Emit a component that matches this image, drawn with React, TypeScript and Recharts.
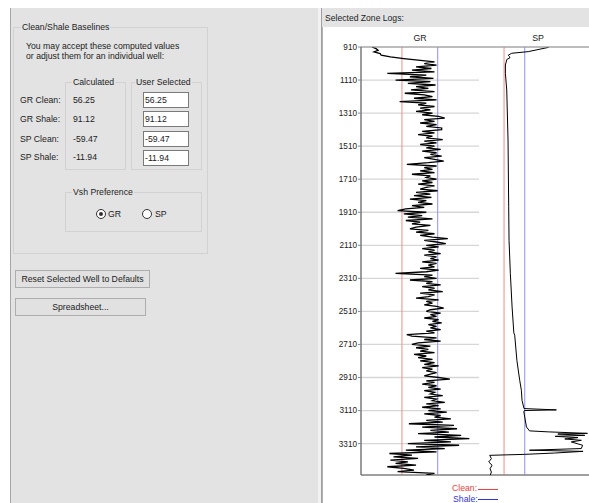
import React from 'react';
import { LineChart, Line, XAxis, YAxis, CartesianGrid, ReferenceLine } from 'recharts';

// ---------- data ----------
const DEPTH_TICKS = [910, 1110, 1310, 1510, 1710, 1910, 2110, 2310, 2510, 2710, 2910, 3110, 3310];
const DEPTH_MIN = 910;
const DEPTH_MAX = 3500;

const GR_CLEAN = 56.25;
const GR_SHALE = 91.12;
const SP_CLEAN = -59.47;
const SP_SHALE = -11.94;

const ROW_LABELS = ['GR Clean:', 'GR Shale:', 'SP Clean:', 'SP Shale:'];
const CALCULATED = ['56.25', '91.12', '-59.47', '-11.94'];
const USER_SELECTED = ['56.25', '91.12', '-59.47', '-11.94'];

// GR log sampled every 10 ft from 910 ft
const GR_START = 910;
const GR_STEP = 10;
const GR_VALUES = [
  27, 31, 33, 29, 35, 36, 45, 58, 72, 88,
  78, 90, 70, 85, 66, 88, 42, 80, 64, 87,
  50, 84, 62, 89, 70, 82, 65, 88, 59, 78,
  86, 68, 90, 54, 80, 72, 88, 74, 84, 70,
  86, 76, 92, 98, 78, 88, 74, 90, 80, 95,
  95, 76, 88, 72, 86, 80, 96, 78, 90, 74,
  88, 80, 94, 76, 90, 84, 95, 78, 88, 97,
  82, 61, 90, 78, 86, 74, 88, 66, 84, 80,
  90, 76, 86, 72, 88, 80, 74, 91, 70, 84,
  68, 85, 64, 80, 72, 86, 66, 78, 60, 52,
  80, 58, 76, 62, 86, 60, 74, 66, 84, 70,
  64, 82, 70, 88, 74, 86, 101, 78, 90, 99,
  80, 92, 76, 88, 82, 94, 78, 90, 84, 92,
  76, 90, 82, 88, 74, 92, 80, 50, 86, 78,
  90, 64, 86, 80, 94, 76, 88, 82, 96, 74,
  88, 82, 70, 92, 80, 86, 78, 90, 97, 84,
  80, 94, 84, 90, 78, 92, 86, 95, 82, 90,
  84, 94, 80, 88, 61, 66, 90, 78, 94, 72,
  66, 84, 70, 82, 74, 88, 68, 80, 72, 86,
  74, 88, 78, 92, 76, 86, 80, 90, 84, 78,
  92, 103, 80, 88, 76, 90, 82, 94, 78, 88,
  84, 96, 78, 90, 86, 98, 80, 92, 76, 94,
  82, 100, 78, 94, 88, 104, 80, 96, 63, 107,
  76, 110, 84, 102, 72, 114, 88, 122, 78, 104,
  62, 112, 70, 98, 60, 90, 44, 66, 48, 72,
  45, 62, 50, 70, 42, 58, 68, 52, 88, 80,
];

const SP_DEPTHS = [
  912, 938, 948, 960, 968, 976, 985, 1019, 1069, 1170,
  1473, 1877, 2079, 2281, 2483, 2640, 2654, 2806, 2927, 2987,
  3048, 3098, 3106, 3110, 3118, 3149, 3209, 3233, 3239, 3248,
  3252, 3260, 3266, 3274, 3282, 3290, 3300, 3320, 3340, 3350,
  3357, 3367, 3375, 3381, 3401, 3421, 3441, 3462, 3482, 3500,
];
const SP_VALUES = [
  43, -4, -42, -50, -47, -46, -53, -56.4, -56.4, -53.3,
  -50.3, -48.8, -48, -45, -41, -37, -35, -30, -23.5, -19.7,
  -18.2, -13.6, 60.7, -13, -14, -12, -8, -1, 42, 132,
  64, 126, 58, 110, 80, 118, 95, 121, 118, -1,
  122, 57, -12, -92.4, -88.6, -94.7, -87, -91.6, -88.6, -91,
];

const grData = GR_VALUES.map((v, i) => ({ depth: GR_START + i * GR_STEP, gr: v }));
const spData = SP_VALUES.map((v, i) => ({ depth: SP_DEPTHS[i], sp: v }));

// ---------- styles ----------
const FONT = '"Liberation Sans", Arial, sans-serif';
const PANEL = '#e3e3e3';
const TXT = '#1c1c1c';

function T({ x, cy, children, color = TXT, size = 8.7 }: any) {
  return (
    <span
      style={{
        position: 'absolute',
        left: x,
        top: cy - 6,
        lineHeight: '12px',
        fontSize: size,
        color,
        whiteSpace: 'nowrap',
      }}
    >
      {children}
    </span>
  );
}

function GroupBox({ x, y, w, h, title, titleX }: any) {
  return (
    <div
      style={{
        position: 'absolute',
        left: x,
        top: y,
        width: w,
        height: h,
        boxSizing: 'border-box',
        border: '1px solid #d2d2d2',
      }}
    >
      <span
        style={{
          position: 'absolute',
          left: titleX - x - 1,
          top: -7,
          lineHeight: '12px',
          fontSize: 8.7,
          background: PANEL,
          padding: '0 1px',
          color: TXT,
          whiteSpace: 'nowrap',
        }}
      >
        {title}
      </span>
    </div>
  );
}

function InputBox({ x, y, value }: any) {
  return (
    <div
      style={{
        position: 'absolute',
        left: x,
        top: y,
        width: 46,
        height: 16,
        boxSizing: 'border-box',
        border: '1px solid #7a7a7a',
        background: '#fff',
        fontSize: 8.7,
        lineHeight: '14px',
        paddingLeft: 1,
        color: TXT,
      }}
    >
      {value}
    </div>
  );
}

function Radio({ cx, cy, checked }: any) {
  return (
    <div
      style={{
        position: 'absolute',
        left: cx - 5,
        top: cy - 5,
        width: 10,
        height: 10,
        boxSizing: 'border-box',
        borderRadius: '50%',
        border: '1px solid #333',
        background: '#fff',
      }}
    >
      {checked && (
        <div
          style={{
            position: 'absolute',
            left: 2,
            top: 2,
            width: 4,
            height: 4,
            borderRadius: '50%',
            background: '#333',
          }}
        />
      )}
    </div>
  );
}

function Button({ x, y, w, h, label }: any) {
  return (
    <div
      style={{
        position: 'absolute',
        left: x,
        top: y,
        width: w,
        height: h,
        boxSizing: 'border-box',
        border: '1px solid #adadad',
        background: '#e1e1e1',
        fontSize: 8.7,
        lineHeight: `${h - 2}px`,
        textAlign: 'center',
        color: TXT,
        whiteSpace: 'nowrap',
      }}
    >
      {label}
    </div>
  );
}

const ROW_CY = [100, 119, 139, 157];
const BOX_Y = [92, 111, 131, 150];

const tickStyle = { fontSize: 8.2, fill: '#222', fontFamily: FONT };

export default function App() {
  return (
    <div
      style={{
        position: 'absolute',
        left: 0,
        top: 0,
        width: 589,
        height: 503,
        overflow: 'hidden',
        background: '#fff',
        fontFamily: FONT,
      }}
    >
      {/* left panel */}
      <div
        style={{
          position: 'absolute',
          left: 10,
          top: 8,
          width: 308,
          height: 495,
          background: PANEL,
          boxSizing: 'border-box',
          borderLeft: '1px solid #a6a6a6',
        }}
      />
      <GroupBox x={13} y={27} w={195} h={227} title="Clean/Shale Baselines" titleX={21} />
      <T x={26} cy={46}>You may accept these computed values</T>
      <T x={26} cy={56}>or adjust them for an individual well:</T>
      <GroupBox x={65} y={82} w={61} h={88} title="Calculated" titleX={72} />
      <GroupBox x={131} y={82} w={71} h={88} title="User Selected" titleX={135} />
      {ROW_LABELS.map((l, i) => (
        <T key={l} x={20} cy={ROW_CY[i]}>{l}</T>
      ))}
      {CALCULATED.map((v, i) => (
        <T key={'c' + i} x={73} cy={ROW_CY[i]}>{v}</T>
      ))}
      {USER_SELECTED.map((v, i) => (
        <InputBox key={'u' + i} x={143} y={BOX_Y[i]} value={v} />
      ))}
      <GroupBox x={65} y={192} w={137} h={40} title="Vsh Preference" titleX={72} />
      <Radio cx={101} cy={214} checked />
      <T x={108} cy={214}>GR</T>
      <Radio cx={147} cy={214} />
      <T x={155} cy={214}>SP</T>
      <Button x={15} y={270} w={135} h={18} label="Reset Selected Well to Defaults" />
      <Button x={15} y={298} w={131} h={18} label="Spreadsheet..." />

      {/* right panel */}
      <div style={{ position: 'absolute', left: 318, top: 8, width: 3, height: 495, background: '#f2f2f2' }} />
      <div
        style={{
          position: 'absolute',
          left: 321,
          top: 8,
          width: 268,
          height: 495,
          background: PANEL,
          boxSizing: 'border-box',
          borderLeft: '1px solid #a0a0a0',
        }}
      />
      <T x={325} cy={18} size={8.6}>Selected Zone Logs:</T>
      <div
        style={{
          position: 'absolute',
          left: 322,
          top: 27,
          width: 267,
          height: 476,
          background: '#fff',
          boxSizing: 'border-box',
          borderLeft: '1px solid #b0b0b0',
        }}
      />

      {/* GR track */}
      <div style={{ position: 'absolute', left: 323, top: 28 }}>
        <LineChart
          width={156}
          height={450}
          data={grData}
          layout="vertical"
          margin={{ top: 0, right: 0, bottom: 3, left: 0 }}
        >
          <CartesianGrid horizontal vertical={false} stroke="#d6d6d6" strokeWidth={1.3} />
          <XAxis
            type="number"
            dataKey="gr"
            domain={[16.3, 131.4]}
            allowDataOverflow
            orientation="top"
            height={19}
            tick={false}
            tickLine={false}
            axisLine={{ stroke: '#9a9a9a' }}
            label={{ value: 'GR', position: 'center', fontSize: 8.8, fill: '#222', fontFamily: FONT }}
          />
          <YAxis
            type="number"
            dataKey="depth"
            domain={[DEPTH_MIN, DEPTH_MAX]}
            ticks={DEPTH_TICKS}
            allowDataOverflow
            width={38}
            tick={tickStyle}
            tickSize={3}
            tickMargin={1}
            tickLine={{ stroke: '#888' }}
            axisLine={{ stroke: '#666', strokeWidth: 1.3 }}
            interval={0}
          />
          <ReferenceLine x={GR_CLEAN} stroke="#f08a8a" strokeWidth={1} />
          <ReferenceLine x={GR_SHALE} stroke="#8f8ff5" strokeWidth={1} />
          <ReferenceLine y={DEPTH_MAX} stroke="#8a8a8a" strokeWidth={1.3} />
          <Line
            type="linear"
            dataKey="gr"
            stroke="#000"
            strokeWidth={1.3}
            dot={false}
            isAnimationActive={false}
          />
        </LineChart>
      </div>

      {/* SP track */}
      <div style={{ position: 'absolute', left: 479, top: 28 }}>
        <LineChart
          width={118}
          height={450}
          data={spData}
          layout="vertical"
          margin={{ top: 0, right: 0, bottom: 3, left: 0 }}
        >
          <CartesianGrid horizontal vertical={false} stroke="#d6d6d6" strokeWidth={1.3} />
          <XAxis
            type="number"
            dataKey="sp"
            domain={[-117, 154]}
            allowDataOverflow
            orientation="top"
            height={19}
            tick={false}
            tickLine={false}
            axisLine={{ stroke: '#9a9a9a' }}
            label={{ value: 'SP', position: 'center', fontSize: 8.8, fill: '#222', fontFamily: FONT }}
          />
          <YAxis
            type="number"
            dataKey="depth"
            domain={[DEPTH_MIN, DEPTH_MAX]}
            ticks={DEPTH_TICKS}
            allowDataOverflow
            width={0}
            tick={false}
            tickLine={false}
            axisLine={{ stroke: '#666', strokeWidth: 1.5 }}
          />
          <ReferenceLine x={SP_CLEAN} stroke="#f08a8a" strokeWidth={1} />
          <ReferenceLine x={SP_SHALE} stroke="#8f8ff5" strokeWidth={1} />
          <ReferenceLine y={DEPTH_MAX} stroke="#8a8a8a" strokeWidth={1.3} />
          <Line
            type="linear"
            dataKey="sp"
            stroke="#000"
            strokeWidth={1}
            dot={false}
            isAnimationActive={false}
          />
        </LineChart>
      </div>

      {/* legend */}
      <T x={452} cy={488} color="#f04040" size={8.7}>Clean:</T>
      <div style={{ position: 'absolute', left: 478, top: 489, width: 20, height: 1, background: '#f04040' }} />
      <T x={453} cy={499} color="#3030f0" size={8.7}>Shale:</T>
      <div style={{ position: 'absolute', left: 478, top: 499, width: 20, height: 1, background: '#3030f0' }} />
    </div>
  );
}
